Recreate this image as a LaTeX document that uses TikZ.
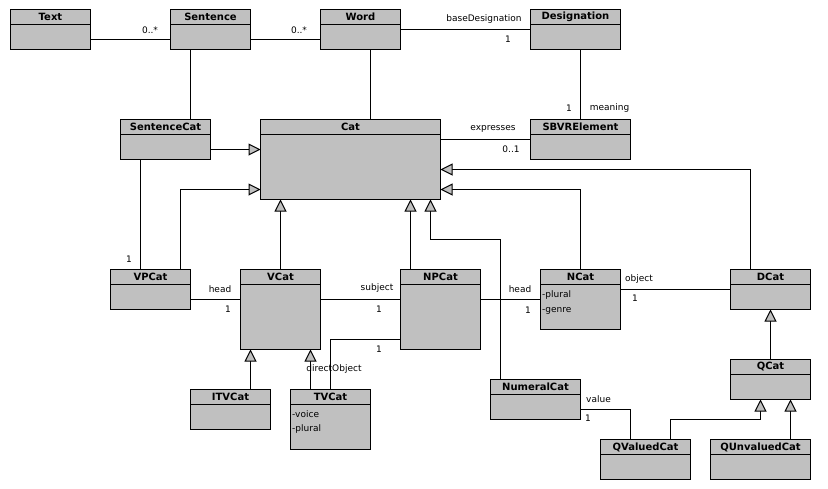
\documentclass[tikz,border=0pt]{standalone}
\usepackage{fontspec}
\setmainfont{DejaVu Sans}
\usepackage{xcolor}
\usetikzlibrary{arrows.meta, positioning, calc}
\definecolor{boxgray}{RGB}{192,192,192}
\tikzset{
    classbox/.style={
        rectangle,
        draw=black,
        fill=boxgray,
        line width=1pt,
        inner sep=0pt,
        outer sep=0pt,
        anchor=north west,
    },
    classtitle/.style={
        font=\bfseries\fontsize{10}{12}\selectfont,
        inner sep=0pt,
    },
    classattr/.style={
        font=\fontsize{9}{11}\selectfont,
        anchor=west,
        inner sep=0pt,
    },
    assoc/.style={
        draw=black,
        line width=1pt,
    },
    gen/.style={
        assoc,
        -{Triangle[length=12pt, width=12pt, fill=boxgray]},
    },
    rolelabel/.style={
        font=\fontsize{9}{11}\selectfont,
        inner sep=0pt,
    },
}
\newcommand{\umlclass}[6]{%
    \node[classbox, minimum width=#4, minimum height=#5] (#1) at (#2,#3) {};
    \draw[line width=1pt] ([yshift=-15pt]#1.north west) -- ([yshift=-15pt]#1.north east);
    \node[classtitle] (#1-title) at ([yshift=-7.5pt]#1.north) {#6};
}

\begin{document}
\begin{tikzpicture}[x=1pt, y=-1pt]
    \useasboundingbox (0,0) rectangle (828,488);

    \umlclass{text}{10.5}{9.5}{80}{40}{Text}
    \umlclass{sentence}{170.5}{9.5}{80}{40}{Sentence}
    \umlclass{word}{320.5}{9.5}{80}{40}{Word}
    \umlclass{designation}{530.5}{9.5}{90}{40}{Designation}
    \umlclass{sentencecat}{120.5}{119.5}{90}{40}{SentenceCat}
    \umlclass{cat}{260.5}{119.5}{180}{80}{Cat}
    \umlclass{sbvr}{530.5}{119.5}{100}{40}{SBVRElement}
    \umlclass{vpcat}{110.5}{269.5}{80}{40}{VPCat}
    \umlclass{vcat}{240.5}{269.5}{80}{80}{VCat}
    \umlclass{npcat}{400.5}{269.5}{80}{80}{NPCat}
    \umlclass{ncat}{540.5}{269.5}{80}{60}{NCat}
    \umlclass{dcat}{730.5}{269.5}{80}{40}{DCat}
    \umlclass{itvcat}{190.5}{389.5}{80}{40}{ITVCat}
    \umlclass{tvcat}{290.5}{389.5}{80}{60}{TVCat}
    \umlclass{numeralcat}{490.5}{379.5}{90}{40}{NumeralCat}
    \umlclass{qcat}{730.5}{359.5}{80}{40}{QCat}
    \umlclass{qvaluedcat}{600.5}{439.5}{90}{40}{QValuedCat}
    \umlclass{qunvaluedcat}{710.5}{439.5}{100}{40}{QUnvaluedCat}

    \node[classattr] (ncat-plural) at ([xshift=1.5pt, yshift=-26pt]ncat.north west) {-plural};
    \node[classattr] (ncat-genre) at ([xshift=1.5pt, yshift=-41pt]ncat.north west) {-genre};
    \node[classattr] (tvcat-voice) at ([xshift=1.5pt, yshift=-25pt]tvcat.north west) {-voice};
    \node[classattr] (tvcat-plural) at ([xshift=1.5pt, yshift=-40pt]tvcat.north west) {-plural};

    % associations
    \draw[assoc] ([yshift=-10pt]text.east) -- ([yshift=-10pt]text.east -| sentence.west);
    \draw[assoc] ([yshift=-10pt]sentence.east) -- ([yshift=-10pt]sentence.east -| word.west);
    \draw[assoc] (word.east) -- (designation.west);
    \draw[assoc] (sbvr.north) -- (sbvr.north |- designation.south);
    \draw[assoc] ([xshift=-20pt]sentence.south) -- ([xshift=-20pt]sentence.south |- sentencecat.north);
    \draw[assoc] ([xshift=10pt]word.south) -- ([xshift=10pt]word.south |- cat.north);
    \draw[assoc] (sbvr.west) -- (sbvr.west -| cat.east);
    \draw[assoc] ([xshift=-10pt]vpcat.north) -- ([xshift=-10pt]vpcat.north |- sentencecat.south);
    \draw[assoc] ([yshift=-10pt]vpcat.east) -- ([yshift=-10pt]vpcat.east -| vcat.west);
    \draw[assoc] ([yshift=10pt]vcat.east) -- ([yshift=10pt]vcat.east -| npcat.west);
    \draw[assoc] (ncat.west) -- (ncat.west -| npcat.east);
    \draw[assoc] (dcat.west) -- (dcat.west -| ncat.east);
    \draw[assoc] ([yshift=-30pt]npcat.west) -| (tvcat.north);
    \draw[assoc] ([yshift=-10pt]numeralcat.east) -| ([xshift=-15pt]qvaluedcat.north);

    % generalizations
    \draw[gen] ([yshift=-10pt]sentencecat.east) -- ([yshift=-10pt]sentencecat.east -| cat.west);
    \draw[gen] ([xshift=-10pt]vpcat.north east) |- ([yshift=-30pt]cat.west);
    \draw[gen] (vcat.north) -- (vcat.north |- cat.south);
    \draw[gen] ([xshift=10pt]npcat.north west) -- ([xshift=10pt]npcat.north west |- cat.south);
    \coordinate (numbend) at (430.5,239.5);
    \draw[gen] ([xshift=10pt]numeralcat.north west) |- (numbend) -- (numbend |- cat.south);
    \draw[gen] (ncat.north) |- ([yshift=-30pt]cat.east);
    \draw[gen] ([xshift=-20pt]dcat.north) |- ([yshift=-10pt]cat.east);
    \draw[gen] ([xshift=20pt]itvcat.north) -- ([xshift=20pt]itvcat.north |- vcat.south);
    \draw[gen] ([xshift=-20pt]tvcat.north) -- ([xshift=-20pt]tvcat.north |- vcat.south);
    \draw[gen] (qcat.north) -- (qcat.north |- dcat.south);
    \coordinate (qbend) at (760.5,419.5);
    \draw[gen] ([xshift=25pt]qvaluedcat.north) |- (qbend) -- (qbend |- qcat.south);
    \draw[gen] ([xshift=30pt]qunvaluedcat.north) -- ([xshift=30pt]qunvaluedcat.north |- qcat.south);

    % role names and multiplicities
    \node[rolelabel] (text-mult) at (150,30) {0..*};
    \node[rolelabel] (sentence-mult) at (299,30) {0..*};
    \node[rolelabel] (desig-role) at (484,19) {baseDesignation};
    \node[rolelabel] (desig-mult) at (508,39) {1};
    \node[rolelabel] (sbvr-mult) at (569,108) {1};
    \node[rolelabel] (sbvr-role) at (609.5,108) {meaning};
    \node[rolelabel] (cat-role) at (493,129) {expresses};
    \node[rolelabel] (cat-mult) at (511,149) {0..1};
    \node[rolelabel] (vpcat-mult) at (129,259) {1};
    \node[rolelabel] (vhead-role) at (220,289) {head};
    \node[rolelabel] (vhead-mult) at (228,309) {1};
    \node[rolelabel] (subj-role) at (377,288) {subject};
    \node[rolelabel] (subj-mult) at (379,309) {1};
    \node[rolelabel] (nhead-role) at (520,289) {head};
    \node[rolelabel] (nhead-mult) at (528,310) {1};
    \node[rolelabel] (obj-role) at (639,279) {object};
    \node[rolelabel] (obj-mult) at (635,298) {1};
    \node[rolelabel] (dobj-mult) at (379,349) {1};
    \node[rolelabel] (dobj-role) at (334,369) {directObject};
    \node[rolelabel] (value-role) at (598.5,399) {value};
    \node[rolelabel] (value-mult) at (588,418) {1};
\end{tikzpicture}
\end{document}
